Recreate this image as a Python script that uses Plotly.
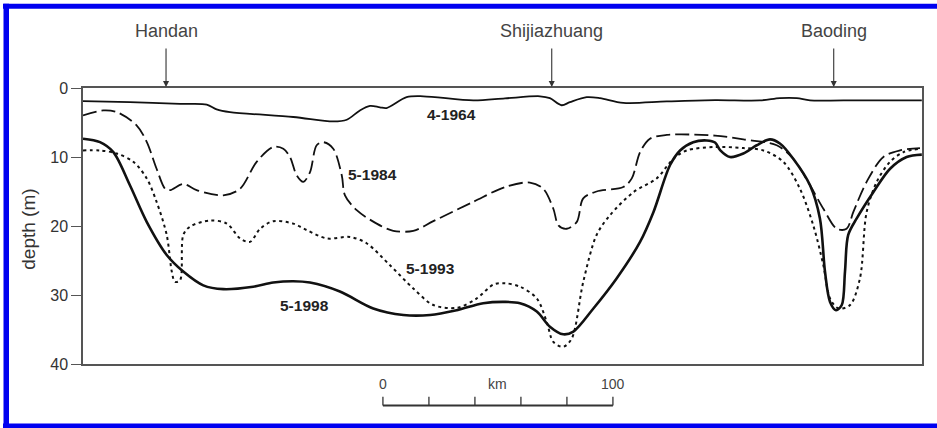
import plotly.graph_objects as go

# ---- data (distance along profile in km, depth in m) ----
km_1964 = [0, 20.4, 42.2, 53.8, 58.1, 63.9, 91.4, 108.8, 114.7, 120.4, 124.8, 129.1, 132.0, 140.7, 148.0,
           169.7, 183.5, 198.7, 203.0, 208.1, 211.7, 219.0, 224.8, 234.9, 253.8, 274.8, 294.3, 303.0,
           310.3, 316.1, 330.6, 364.7]
d_1964 = [1.9, 2.05, 2.3, 2.4, 3.1, 3.5, 4.2, 4.85, 4.6, 3.25, 2.6, 2.8, 2.9, 1.33, 1.2,
          1.8, 1.5, 1.2, 1.47, 2.5, 2.05, 1.33, 1.47, 2.15, 1.95, 1.76, 1.8, 1.47,
          1.47, 1.8, 1.8, 1.8]

km_1984 = [0, 8.8, 14.7, 23.3, 27.7, 32.0, 35.7, 37.8, 43.6, 49.4, 61.0, 68.3, 75.5, 82.7, 87.1, 90.0,
           92.9, 95.8, 98.7, 101.6, 104.5, 108.8, 112.5, 113.9, 119.0, 127.7, 134.9, 143.6, 152.3,
           169.7, 183.5, 194.3, 200.1, 204.5, 206.7, 210.3, 214.7, 217.5, 223.3, 234.9, 238.6,
           242.2, 246.5, 253.8, 274.8, 287.1, 301.6, 308.8, 316.1, 321.9, 327.7, 332.0, 334.9,
           340.7, 348.0, 355.2, 363.9]
d_1984 = [3.98, 3.25, 3.5, 5.4, 7.8, 11.7, 14.6, 14.8, 13.9, 14.8, 15.55, 14.6, 10.7, 8.55, 8.8, 10.0,
          12.65, 13.6, 12.2, 8.3, 7.85, 8.8, 12.65, 15.55, 17.7, 19.65, 20.7, 20.7, 19.3,
          16.5, 14.35, 13.7, 14.6, 17.5, 19.9, 20.4, 19.4, 16.0, 15.0, 14.35, 13.1,
          9.3, 7.35, 6.8, 6.9, 7.45, 8.3, 10.25, 14.1, 17.5, 20.4, 20.4, 18.0,
          13.6, 10.0, 9.05, 8.7]

km_1993 = [0, 7.4, 14.7, 21.9, 27.7, 32.0, 36.4, 38.6, 40.0, 42.2, 43.6, 46.5, 55.2, 62.5, 68.3, 72.6,
           77.0, 82.7, 91.4, 97.3, 106.0, 116.1, 123.3, 133.5, 143.6, 152.3, 162.5, 171.2, 178.4,
           183.5, 190.0, 197.3, 201.6, 204.5, 208.8, 212.5, 217.5, 223.3, 229.1, 239.3, 249.4,
           256.7, 262.5, 274.8, 287.1, 295.8, 304.5, 311.7, 317.5, 321.9, 324.8, 328.4, 333.5,
           337.8, 340.7, 345.1, 350.9, 356.7, 363.9]
d_1993 = [9.05, 9.05, 9.5, 10.7, 13.1, 16.5, 21.3, 26.6, 28.1, 27.85, 21.3, 20.1, 19.2, 19.65, 21.8, 22.3,
          20.4, 19.3, 19.65, 20.6, 21.8, 21.6, 22.5, 25.7, 29.05, 31.45, 31.85, 30.5, 28.5,
          28.3, 28.8, 30.5, 33.9, 36.8, 37.5, 36.3, 28.1, 21.3, 18.45, 15.1, 13.1,
          10.25, 9.05, 8.55, 8.7, 9.05, 10.7, 14.6, 19.9, 25.7, 30.5, 31.95, 31.45,
          27.6, 18.0, 13.6, 10.7, 9.3, 8.8]

km_1998 = [0, 7.4, 13.2, 20.4, 27.7, 36.4, 43.6, 52.3, 61.0, 74.0, 82.7, 91.4, 98.7, 111.7, 126.2,
           139.3, 150.9, 162.5, 174.0, 183.5, 190.0, 197.3, 203.0, 208.8, 213.2, 221.9, 232.0,
           242.2, 248.0, 255.2, 259.6, 265.3, 271.2, 274.8, 277.0, 281.3, 287.1, 292.9, 298.7,
           303.0, 308.8, 316.1, 320.4, 322.6, 324.8, 327.4, 329.9, 331.3, 332.7, 336.4, 343.6,
           350.9, 358.1, 364.7]
d_1998 = [7.35, 7.85, 9.3, 14.1, 19.4, 24.2, 26.6, 28.6, 29.15, 28.8, 28.2, 28.0, 28.2, 29.5, 31.95,
          32.9, 32.9, 32.2, 31.2, 31.0, 31.2, 32.4, 34.6, 35.7, 35.3, 31.95, 27.6,
          22.3, 18.0, 11.2, 9.05, 7.85, 7.6, 7.9, 9.0, 10.0, 9.5, 8.3, 7.45,
          8.05, 10.25, 14.1, 18.9, 26.6, 31.0, 32.2, 31.45, 26.6, 21.3, 18.9, 15.1,
          11.7, 10.0, 9.65]

y_ticks = [0, 10, 20, 30, 40]
cities = ["Handan", "Shijiazhuang", "Baoding"]
city_km = [36.1, 203.8, 326.4]
curve_labels = ["4-1964", "5-1984", "5-1993", "5-1998"]
label_km = [160.3, 125.9, 151.1, 96.5]
label_depth = [3.8, 12.5, 26.1, 31.5]
scale_km = [0, 20, 40, 60, 80, 100]
scale_origin_km = 130.4

# ---- layout geometry (pixels) ----
W, H = 937, 428
L, R, T, B = 83, 922, 87.5, 364
FONT = "Liberation Sans, Arial, sans-serif"


def px_x(p):
    return (p - L) / (R - L)


def px_y(p):
    return (B - p) / (B - T)


fig = go.Figure()
line_col = "#111111"
fig.add_trace(go.Scatter(x=km_1964, y=d_1964, mode="lines",
                         line=dict(color=line_col, width=1.8, shape="spline", smoothing=0.9)))
fig.add_trace(go.Scatter(x=km_1984, y=d_1984, mode="lines",
                         line=dict(color=line_col, width=1.8, dash="14px,5px", shape="spline", smoothing=0.9)))
fig.add_trace(go.Scatter(x=km_1993, y=d_1993, mode="lines",
                         line=dict(color=line_col, width=2, dash="3px,3.5px", shape="spline", smoothing=0.9)))
fig.add_trace(go.Scatter(x=km_1998, y=d_1998, mode="lines",
                         line=dict(color=line_col, width=2.6, shape="spline", smoothing=0.9)))

annotations = []
for name, k in zip(cities, city_km):
    annotations.append(dict(x=k, y=1, xref="x", yref="paper", ax=0, ay=-41, text="",
                            showarrow=True, arrowhead=2, arrowsize=1.1, arrowwidth=1.1,
                            arrowcolor="#333333", standoff=1))
    annotations.append(dict(x=k, y=px_y(30), xref="x", yref="paper", text=name, showarrow=False,
                            font=dict(family=FONT, size=18, color="#444444"),
                            xanchor="center", yanchor="middle"))
for t, k, d in zip(curve_labels, label_km, label_depth):
    annotations.append(dict(x=k, y=d, xref="x", yref="y", text="<b>" + t + "</b>", showarrow=False,
                            font=dict(family=FONT, size=15.5, color="#222222"),
                            xanchor="center", yanchor="middle"))

shapes = []
# scale bar
sb_y = px_y(405.7)
sb_top = px_y(396.7)
shapes.append(dict(type="line", xref="x", yref="paper", x0=scale_origin_km + scale_km[0],
                   x1=scale_origin_km + scale_km[-1], y0=sb_y, y1=sb_y,
                   line=dict(color="#333333", width=2)))
for s in scale_km:
    shapes.append(dict(type="line", xref="x", yref="paper", x0=scale_origin_km + s,
                       x1=scale_origin_km + s, y0=sb_y, y1=sb_top,
                       line=dict(color="#333333", width=1.3)))
for txt, s in [("0", scale_km[0]), ("km", 50), ("100", scale_km[-1])]:
    annotations.append(dict(x=scale_origin_km + s, y=px_y(384), xref="x", yref="paper", text=txt,
                            showarrow=False, font=dict(family=FONT, size=14, color="#444444"),
                            xanchor="center", yanchor="middle"))

# blue border (top, left, bottom) - right side is cut off in the source
blue = "#0000f0"
for x0, x1, y0, y1 in [(3, 937, 3, 8), (3.5, 9, 3, 428), (3, 937, 423.5, 428)]:
    shapes.append(dict(type="rect", xref="paper", yref="paper", x0=px_x(x0), x1=px_x(x1),
                       y0=px_y(y1), y1=px_y(y0), fillcolor=blue, line=dict(width=0), layer="above"))

# y-axis title
annotations.append(dict(x=px_x(28.5), y=px_y(229), xref="paper", yref="paper", text="depth (m)",
                        textangle=-90, showarrow=False,
                        font=dict(family=FONT, size=19, color="#333333"),
                        xanchor="center", yanchor="middle"))

fig.update_layout(
    width=W, height=H,
    margin=dict(l=L, r=W - R, t=T, b=H - B, pad=0),
    paper_bgcolor="white", plot_bgcolor="white",
    showlegend=False,
    xaxis=dict(range=[0, (R - L) / 2.3], showgrid=False, zeroline=False, showticklabels=False,
               ticks="", showline=True, mirror=True, linecolor="#555555", linewidth=1.5,
               fixedrange=True),
    yaxis=dict(range=[40, 0], tickvals=y_ticks, showgrid=False, zeroline=False, ticks="outside",
               ticklen=10, tickwidth=1.3, tickcolor="#555555", showline=True, mirror=True,
               linecolor="#555555", linewidth=1.5,
               tickfont=dict(family=FONT, size=16, color="#333333"), fixedrange=True),
    annotations=annotations,
    shapes=shapes,
)

fig.write_html("out.html")
